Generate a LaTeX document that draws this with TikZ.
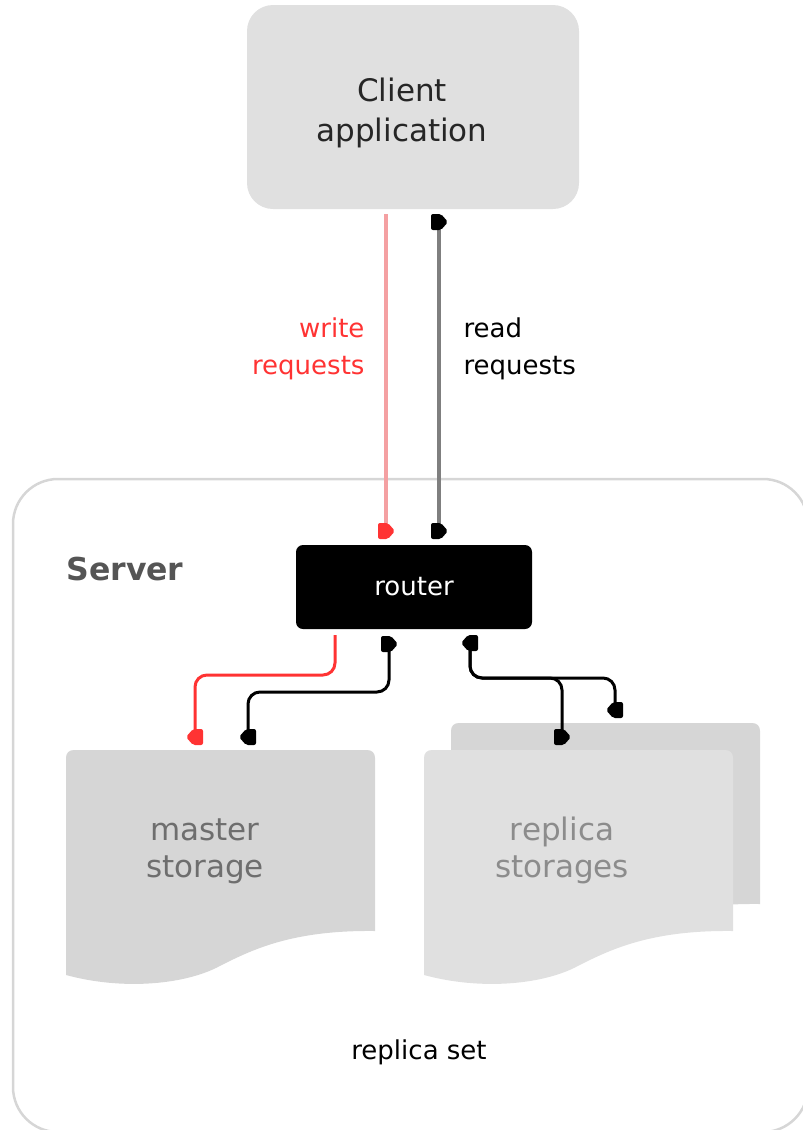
\documentclass[tikz,border=0pt]{standalone}
\usepackage{fontspec}
\setmainfont{DejaVu Sans}
\usetikzlibrary{positioning}
\definecolor{boxGray}{HTML}{E0E0E0}
\definecolor{docGray}{HTML}{D6D6D6}
\definecolor{wRed}{HTML}{FF3333}
\definecolor{wPink}{HTML}{F4A0A2}
\definecolor{rGray}{HTML}{7F7F7F}
\definecolor{frameGray}{HTML}{D6D6D6}
\definecolor{srvGray}{HTML}{555555}
\definecolor{txtGray}{HTML}{6E6E6E}

\tikzset{
  tipflag/.pic={\path[pic actions, rounded corners=2pt] (-8,-8) -- (2,-8) -- (9,0) -- (2,8) -- (-8,8) -- cycle;},
  storagedoc/.pic={\path[pic actions] (0,225) -- (0,8) .. controls (0,3) and (3,0) .. (8,0)
      -- (301,0) .. controls (306,0) and (309,3) .. (309,8) -- (309,181)
      .. controls (225,180) and (185,200) .. (150,218)
      .. controls (115,235) and (55,240) .. (0,225) -- cycle;}
}

\begin{document}
\begin{tikzpicture}[x=1pt, y=-1pt,
    bigtxt/.style={font=\fontsize{31}{40}\selectfont, align=center},
    smalltxt/.style={font=\fontsize{26}{37}\selectfont},
    conn/.style={line width=3pt, rounded corners=12pt}]
  \useasboundingbox (0,0) rectangle (803,1130);
  \clip (0,0) rectangle (803,1130);

  % client on top
  \node[fill=boxGray, rounded corners=26pt, minimum width=332pt, minimum height=204pt] (client) at (413,107) {};
  \node[bigtxt, text=black!85] (clienttxt) at (402,113) {Client\\application};

  % server frame
  \draw[frameGray, line width=2.5pt, rounded corners=45pt] (13,479) rectangle (808,1132);
  \node[font=\fontsize{31.5}{36}\selectfont\bfseries, text=srvGray, anchor=west] (srv) at (63,569) {Server};
  \node[fill=black, text=white, rounded corners=7pt, minimum width=236pt, minimum height=84pt, smalltxt] (router) at (414,587) {router};

  % storages
  \pic[fill=docGray] at (66,750) {storagedoc};
  \pic[fill=docGray] at (451,723) {storagedoc};
  \pic[fill=boxGray] at (424,750) {storagedoc};
  \node[bigtxt, text=txtGray, font=\fontsize{31}{37}\selectfont] (master) at (205,851) {master\\storage};
  \node[bigtxt, text=black!45, font=\fontsize{31}{37}\selectfont] (replica) at (562,850) {replica\\storages};
  \node[smalltxt] (rset) at (419,1052) {replica set};

  % requests
  \coordinate (wtop) at (386,214);
  \coordinate (wend) at (386,531);
  \coordinate (rtop) at (439,222);
  \coordinate (rend) at (439,531);
  \draw[wPink, line width=3.5pt] (wtop) -- (wend);
  \draw[rGray, line width=3.5pt] (rtop) -- (rend);
  \pic[fill=wRed] at (wend) {tipflag};
  \pic[fill=black] at (rtop) {tipflag};
  \pic[fill=black] at (rend) {tipflag};
  \node[smalltxt, text=wRed, align=right, anchor=east] (wlab) at (368,349) {write\\requests};
  \node[smalltxt, align=left, anchor=west] (rlab) at (460,349) {read\\requests};

  % router to storages
  \coordinate (m1) at (335,635);
  \coordinate (m1end) at (195,737);
  \coordinate (r1) at (389,644);
  \coordinate (r1end) at (248,737);
  \coordinate (r2) at (470,643);
  \coordinate (rep1) at (562,737);
  \coordinate (rep2) at (615,710);
  \draw[conn, wRed] (m1) -- ++(0,40) -| (m1end);
  \draw[conn] (r1) -- ++(0,48) -| (r1end);
  \draw[conn] (r2) -- ++(0,35) -| (rep1);
  \draw[conn] (r2) -- ++(0,35) -| (rep2);
  \pic[fill=wRed, xscale=-1] at (m1end) {tipflag};
  \pic[fill=black, xscale=-1] at (r1end) {tipflag};
  \pic[fill=black] at (r1) {tipflag};
  \pic[fill=black, xscale=-1] at (r2) {tipflag};
  \pic[fill=black] at (rep1) {tipflag};
  \pic[fill=black, xscale=-1] at (rep2) {tipflag};
\end{tikzpicture}
\end{document}
